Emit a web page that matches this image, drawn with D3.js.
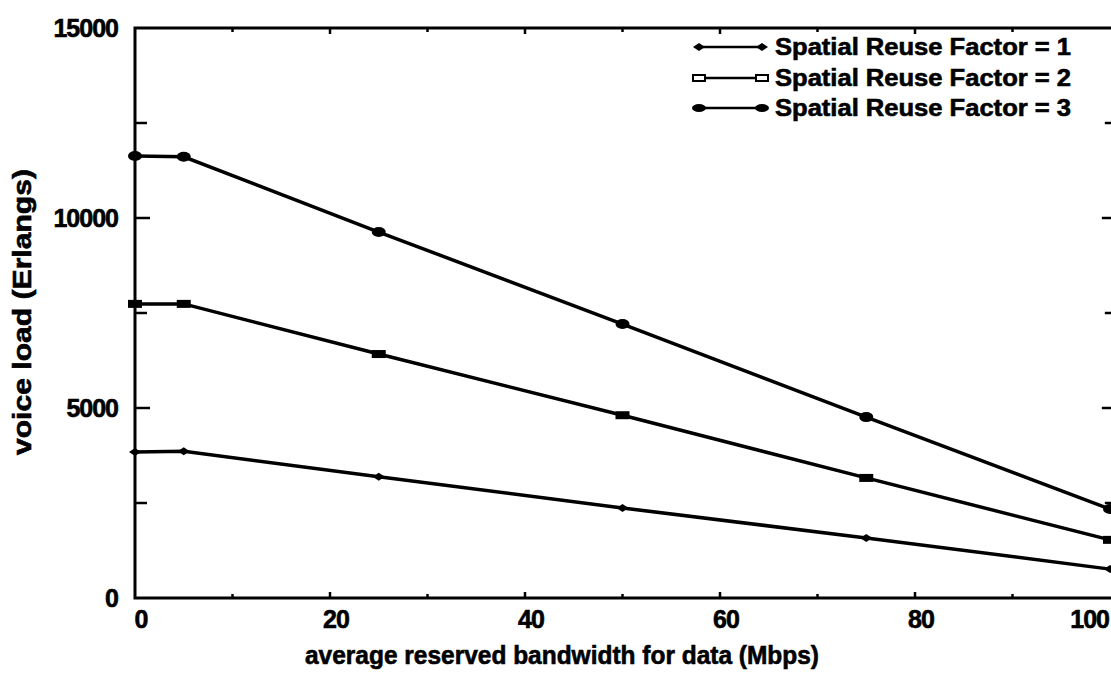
<!DOCTYPE html>
<html><head><meta charset="utf-8">
<script src="https://cdn.jsdelivr.net/npm/d3@7"></script>
<style>body{margin:0;background:#fff}svg{display:block}text{font-family:"Liberation Sans",Arial,sans-serif;font-weight:bold;fill:#000;stroke:#000;stroke-width:0.6px}</style>
</head><body><svg id="c" width="1111" height="677"></svg>
<script>
const bandwidth = [0, 5, 25, 50, 75, 100];
const srf1 = [3840, 3860, 3190, 2370, 1580, 760];
const srf2 = [7740, 7740, 6420, 4810, 3160, 1530];
const srf3 = [11630, 11610, 9630, 7210, 4760, 2340];
const seriesNames = ["Spatial Reuse Factor = 1", "Spatial Reuse Factor = 2", "Spatial Reuse Factor = 3"];
const xTicks = [0, 20, 40, 60, 80, 100];
const yTicks = [0, 5000, 10000, 15000];

const svg = d3.select("#c");
const x = d3.scaleLinear().domain([0, 100]).range([135, 1110]);
const y = d3.scaleLinear().domain([0, 15000]).range([598, 28]);
const xR = x(100.7);

// frame
const g = svg.append("g").attr("stroke", "#000").attr("stroke-width", 3).attr("fill", "none");
g.append("path").attr("d", `M${x(0)},${y(15000)}H${xR}V${y(0)}H${x(0)}Z`);

// ticks
const tk = svg.append("g").attr("stroke", "#000").attr("stroke-width", 2.5);
d3.range(2500, 15000, 2500).forEach(v => {
  const len = (v % 5000 === 0) ? 15 : 12;
  tk.append("line").attr("x1", x(0)).attr("x2", x(0) + len).attr("y1", y(v)).attr("y2", y(v));
  tk.append("line").attr("x1", xR).attr("x2", xR - len).attr("y1", y(v)).attr("y2", y(v));
});
d3.range(10, 100, 10).forEach(v => {
  const len = (v % 20 === 0) ? 6 : 4;
  tk.append("line").attr("x1", x(v)).attr("x2", x(v)).attr("y1", y(0)).attr("y2", y(0) - len);
  tk.append("line").attr("x1", x(v)).attr("x2", x(v)).attr("y1", y(15000)).attr("y2", y(15000) + len);
});

// tick labels
svg.append("g").selectAll("text").data(yTicks).join("text")
  .attr("x", 118).attr("y", d => y(d) + 9).attr("text-anchor", "end")
  .attr("font-size", 25).attr("letter-spacing", -1).text(d => d);
svg.append("g").selectAll("text").data(xTicks).join("text")
  .attr("x", d => d === 100 ? 1109 : x(d) + 6).attr("y", 628)
  .attr("text-anchor", d => d === 100 ? "end" : "middle")
  .attr("font-size", 25).attr("letter-spacing", -1).text(d => d);

// axis titles
svg.append("text").attr("x", 562).attr("y", 664).attr("text-anchor", "middle")
  .attr("font-size", 25).attr("textLength", 514).attr("lengthAdjust", "spacingAndGlyphs")
  .text("average reserved bandwidth for data (Mbps)");
svg.append("text").attr("transform", "translate(31,312) rotate(-90)").attr("text-anchor", "middle")
  .attr("font-size", 25).attr("textLength", 286).attr("lengthAdjust", "spacingAndGlyphs")
  .text("voice load (Erlangs)");

// series
const allSeries = [srf1, srf2, srf3];
const line = d3.line().x((d, i) => x(bandwidth[i])).y(d => y(d));
svg.append("clipPath").attr("id", "cp").append("rect")
  .attr("x", 120).attr("y", 20).attr("width", 991).attr("height", 590);

function marker(sel, k, cx, cy, legend) {
  if (k === 0) {
    sel.append("path").attr("d", `M${cx-6},${cy}L${cx},${cy-4}L${cx+6},${cy}L${cx},${cy+4}Z`).attr("fill", "#000");
  } else if (k === 1) {
    if (legend) sel.append("rect").attr("x", cx-6).attr("y", cy-3).attr("width", 12).attr("height", 6)
      .attr("fill", "#fff").attr("stroke", "#000").attr("stroke-width", 2);
    else sel.append("rect").attr("x", cx-7).attr("y", cy-4).attr("width", 14).attr("height", 8).attr("fill", "#000");
  } else {
    sel.append("ellipse").attr("cx", cx).attr("cy", cy).attr("rx", 7).attr("ry", legend ? 4 : 5).attr("fill", "#000");
  }
}

allSeries.forEach((s, k) => {
  const sg = svg.append("g").attr("clip-path", "url(#cp)");
  sg.append("path").datum(s).attr("d", line).attr("fill", "none").attr("stroke", "#000").attr("stroke-width", 3.5);
  s.forEach((v, i) => marker(sg, k, x(bandwidth[i]), y(v), false));
});

// legend
const legY = [47, 78, 108];
seriesNames.forEach((n, k) => {
  const lg = svg.append("g");
  lg.append("line").attr("x1", 699).attr("x2", 762).attr("y1", legY[k]).attr("y2", legY[k]).attr("stroke", "#000").attr("stroke-width", 2.5);
  marker(lg, k, 699, legY[k], true);
  marker(lg, k, 762, legY[k], true);
  lg.append("text").attr("x", 775).attr("y", legY[k] + 8).attr("font-size", 23)
    .attr("textLength", 296).attr("lengthAdjust", "spacingAndGlyphs").text(n);
});
</script></body></html>
